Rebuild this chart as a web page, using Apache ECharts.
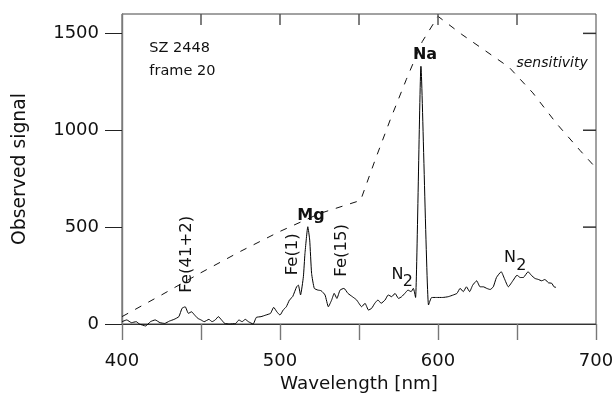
<!DOCTYPE html>
<html>
<head>
<meta charset="utf-8">
<script src="https://cdn.jsdelivr.net/npm/echarts@6/dist/echarts.min.js"></script>
<style>
  html, body { margin: 0; padding: 0; background: #fff; }
  #chart { width: 615px; height: 397px; }
</style>
</head>
<body>
<div id="chart"></div>
<script>
// Meteor spectrum: observed signal versus wavelength, with camera sensitivity curve
const wavelength = [
  400, 403, 406, 409, 411, 415, 418, 421, 424, 427, 430, 433, 436, 438, 440, 442, 444, 446, 448, 450,
  452, 455, 457, 459, 461, 463, 465, 468, 472, 474, 476, 478, 480, 483, 485, 488, 491, 494, 496, 498,
  500, 502, 504, 506, 508, 510.5, 511.6, 513, 514.8, 515.8, 517.6, 518.8, 520, 521.7, 524, 526, 528.5, 530.6, 532.7, 534.3,
  536, 538, 540.5, 543, 545.8, 548.5, 551.7, 553.8, 556, 558, 560, 562, 564, 566.5, 568.5, 570.7, 572.8, 575, 577, 579,
  581, 583, 584.4, 585.8, 589.2, 594, 596, 599, 603, 606.5, 609.7, 612, 614, 616, 618, 620, 622, 624.5, 626.6, 628.7,
  630.8, 633, 635, 637, 640, 642, 644.5, 647.7, 650, 652, 654, 657, 659, 661.4, 663.5, 665.6, 667.7, 669.8, 672, 673.4, 674.7
];
const signal = [
  12, 21, 7, 12, 0, -10, 12, 21, 7, 3, 15, 24, 38, 81, 89, 55, 63, 46, 29, 21,
  12, 24, 12, 21, 38, 21, 3, 0, 3, 21, 12, 24, 12, 0, 34, 38, 46, 55, 86, 63,
  46, 72, 89, 124, 141, 192, 201, 150, 244, 364, 502, 433, 261, 184, 175, 172, 150, 89, 124, 158,
  132, 175, 184, 158, 141, 124, 89, 107, 72, 81, 107, 124, 107, 124, 150, 141, 158, 132, 141, 158,
  175, 167, 184, 137, 1330, 98, 137, 137, 137, 141, 150, 158, 184, 167, 192, 167, 201, 223, 192, 192,
  184, 178, 192, 240, 270, 235, 192, 227, 252, 240, 240, 270, 252, 235, 230, 223, 230, 213, 210, 192, 189
];

// Relative sensitivity of the recording system (dashed curve)
const sensWavelength = [400, 425, 450, 475, 500, 525, 551, 560, 570, 580, 590, 600, 615, 630, 645, 660, 675, 690, 700];
const sensitivity   = [38, 150, 265, 375, 478, 570, 638, 842, 1059, 1263, 1457, 1588, 1495, 1410, 1325, 1193, 1035, 895, 805];

const xTicks = [400, 500, 600, 700];
const yTicks = [0, 500, 1000, 1500];
// inward ticks on the top and right edges of the frame
const topTicks = [450, 500, 550, 600, 650];
const rightTicks = [500, 1000, 1500];

const X_MIN = 400, X_MAX = 700, Y_MIN = 0, Y_MAX = 1600;
const FONT = 'DejaVu Sans';

function pairs(xs, ys) { return xs.map((x, i) => [x, ys[i]]); }

// Annotation texts anchored in data coordinates
const notes = [
  { value: [417, 1364], label: { formatter: 'SZ 2448\nframe 20', position: 'right', distance: 0, align: 'left', fontSize: 14.5, lineHeight: 23 } },
  { value: [591.8, 1388], label: { formatter: 'Na', fontWeight: 'bold', fontSize: 16 } },
  { value: [519.6, 560], label: { formatter: 'Mg', fontWeight: 'bold', fontSize: 16 } },
  { value: [672.2, 1346], label: { formatter: 'sensitivity', fontStyle: 'italic', fontSize: 14 } },
  { value: [441.1, 360], label: { formatter: 'Fe(41+2)', rotate: 90, fontSize: 16.5 } },
  { value: [508.2, 360], label: { formatter: 'Fe(1)', rotate: 90, fontSize: 16.5 } },
  { value: [539.2, 380], label: { formatter: 'Fe(15)', rotate: 90, fontSize: 16.5 } },
  { value: [574.4, 254], label: { formatter: 'N', fontSize: 16 } },
  { value: [580.9, 220], label: { formatter: '2', fontSize: 16 } },
  { value: [645.6, 339], label: { formatter: 'N', fontSize: 16 } },
  { value: [652.7, 301], label: { formatter: '2', fontSize: 16 } }
];

const chart = echarts.init(document.getElementById('chart'));

chart.setOption({
  animation: false,
  backgroundColor: '#fff',
  grid: {
    left: 122, right: 19, top: 14, bottom: 73, outerBoundsMode: 'none',
    show: true, borderColor: '#444', borderWidth: 1
  },
  xAxis: {
    type: 'value', position: 'bottom', min: X_MIN, max: X_MAX, interval: 50,
    axisLine: { show: true, onZero: false, lineStyle: { color: '#333', width: 1 } },
    axisTick: { show: true, inside: false, length: 16, lineStyle: { color: '#777', width: 1.4 } },
    axisLabel: {
      margin: 28, fontFamily: FONT, fontSize: 18, color: '#111',
      formatter: v => (xTicks.indexOf(v) >= 0 ? String(v) : '')
    },
    splitLine: { show: false },
    name: 'Wavelength [nm]', nameLocation: 'middle', nameGap: 36,
    nameTextStyle: { fontFamily: FONT, fontSize: 18.3, color: '#111' }
  },
  yAxis: {
    type: 'value', position: 'left', min: Y_MIN, max: Y_MAX,
    axisLine: { show: true, onZero: false, lineStyle: { color: '#7a7a7a', width: 1.4 } },
    axisTick: { show: true, inside: false, length: 17, customValues: yTicks, lineStyle: { color: '#222', width: 1 } },
    axisLabel: {
      margin: 23, fontFamily: FONT, fontSize: 18, color: '#111', customValues: yTicks,
      formatter: v => String(v)
    },
    splitLine: { show: false },
    name: 'Observed signal', nameLocation: 'middle', nameGap: 92, nameRotate: 90,
    nameTextStyle: { fontFamily: FONT, fontSize: 18.8, color: '#111' }
  },
  series: [
    {
      name: 'sensitivity', type: 'line',
      data: pairs(sensWavelength, sensitivity),
      showSymbol: false, smooth: false, clip: false,
      lineStyle: { color: '#111', width: 1, type: [7, 8] }
    },
    {
      name: 'spectrum', type: 'line',
      data: pairs(wavelength, signal),
      showSymbol: false, smooth: 0.15, clip: false,
      lineStyle: { color: '#000', width: 1 }
    },
    {
      name: 'notes', type: 'scatter',
      symbol: 'circle', symbolSize: 1, itemStyle: { color: 'rgba(0,0,0,0)' }, clip: false, silent: true,
      label: { show: true, position: 'inside', fontFamily: FONT, color: '#111', fontSize: 16, opacity: 1 },
      data: notes
    }
  ]
});

// Inward frame ticks on the top and right edges, placed through the axis scales
function tickLine(value, dx, dy, color) {
  const p = chart.convertToPixel({ gridIndex: 0 }, value);
  return {
    type: 'line', z: 100, silent: true,
    shape: { x1: p[0], y1: p[1], x2: p[0] + dx, y2: p[1] + dy },
    style: { stroke: color, lineWidth: 1.5 }
  };
}
chart.setOption({
  graphic: topTicks.map(v => tickLine([v, Y_MAX], 0, 11, '#555'))
    .concat(rightTicks.map(v => tickLine([X_MAX, v], -13, 0, '#333')))
});
</script>
</body>
</html>
